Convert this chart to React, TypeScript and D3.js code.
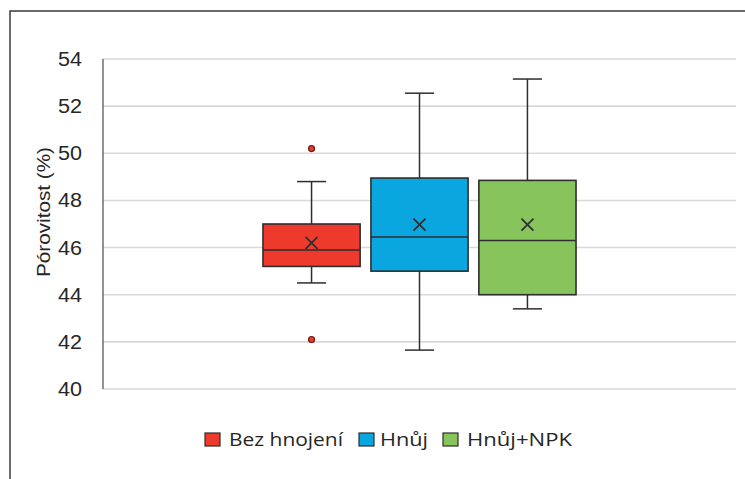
import React from "react";
import * as d3 from "d3";

const seriesNames = ["Bez hnojení", "Hnůj", "Hnůj+NPK"];
const seriesColors = ["#ee3a2c", "#0aa6e0", "#88c45c"];
const whiskerLow = [44.5, 41.65, 43.4];
const q1 = [45.2, 45.0, 44.0];
const medians = [45.9, 46.45, 46.3];
const q3 = [47.0, 48.95, 48.85];
const whiskerHigh = [48.8, 52.55, 53.15];
const means = [46.2, 46.97, 46.97];
const outliers = [[50.2, 42.1], [], []];
const yTicks = [40, 42, 44, 46, 48, 50, 52, 54];
const yTitle = "Pórovitost (%)";

const W = 745;
const H = 479;
const plotL = 103;
const plotR = 736;
const plotT = 59;
const plotB = 389;

export default function App() {
  const y = d3.scaleLinear().domain([40, 54]).range([plotB, plotT]);
  const cat = d3.scaleBand().domain(["all"]).range([plotL, plotR]).paddingInner(0).paddingOuter(0.511);
  const sx = d3
    .scaleBand()
    .domain(seriesNames)
    .range([cat("all")!, cat("all")! + cat.bandwidth()])
    .paddingInner(0.1)
    .paddingOuter(0);
  const bw = sx.bandwidth();
  const stroke = "#2e2e2e";

  const legendX = [205, 359, 443];
  const legendTextX = [229, 380, 467];
  const legendLen = [114, 48, 105];

  return (
    <svg
      width={W}
      height={H}
      style={{ position: "absolute", left: 0, top: 0, background: "#fff" }}
    >
      <rect x={10} y={11} width={900} height={700} fill="#fff" stroke="#3a3a3a" strokeWidth={1.5} />
      {yTicks.map((t) => (
        <line key={t} x1={plotL} x2={plotR} y1={y(t)} y2={y(t)} stroke="#d9d9d9" strokeWidth={1.6} />
      ))}
      <line x1={plotL} x2={plotL} y1={plotT} y2={plotB} stroke="#595959" strokeWidth={1.3} />
      {yTicks.map((t) => (
        <text
          key={"l" + t}
          x={82}
          y={y(t)}
          dy="0.36em"
          textAnchor="end"
          fontFamily="'Liberation Sans', Arial, sans-serif"
          fontSize={19.5}
          textLength={24}
          lengthAdjust="spacingAndGlyphs"
          fill="#262626"
        >
          {t}
        </text>
      ))}
      <text
        transform={`translate(50,212) rotate(-90)`}
        textAnchor="middle"
        fontFamily="'Liberation Sans', Arial, sans-serif"
        fontSize={19}
        textLength={130}
        lengthAdjust="spacingAndGlyphs"
        fill="#262626"
      >
        {yTitle}
      </text>
      {seriesNames.map((s, i) => {
        const x0 = sx(s)!;
        const cx = x0 + bw / 2;
        const cap = bw * 0.3;
        return (
          <g key={s}>
            <line x1={cx} x2={cx} y1={y(whiskerHigh[i])} y2={y(q3[i])} stroke={stroke} strokeWidth={1.5} />
            <line x1={cx} x2={cx} y1={y(q1[i])} y2={y(whiskerLow[i])} stroke={stroke} strokeWidth={1.5} />
            <line x1={cx - cap / 2} x2={cx + cap / 2} y1={y(whiskerHigh[i])} y2={y(whiskerHigh[i])} stroke={stroke} strokeWidth={1.5} />
            <line x1={cx - cap / 2} x2={cx + cap / 2} y1={y(whiskerLow[i])} y2={y(whiskerLow[i])} stroke={stroke} strokeWidth={1.5} />
            <rect
              x={x0}
              y={y(q3[i])}
              width={bw}
              height={y(q1[i]) - y(q3[i])}
              fill={seriesColors[i]}
              stroke={stroke}
              strokeWidth={1.6}
            />
            <line x1={x0} x2={x0 + bw} y1={y(medians[i])} y2={y(medians[i])} stroke={stroke} strokeWidth={1.6} />
            <path
              d={`M${cx - 6},${y(means[i]) - 6}L${cx + 6},${y(means[i]) + 6}M${cx - 6},${y(means[i]) + 6}L${cx + 6},${y(means[i]) - 6}`}
              stroke={stroke}
              strokeWidth={1.7}
              fill="none"
            />
            {outliers[i].map((o, j) => (
              <circle key={j} cx={cx} cy={y(o)} r={3} fill={seriesColors[i]} stroke="#6b1a14" strokeWidth={1.2} />
            ))}
          </g>
        );
      })}
      {seriesNames.map((s, i) => (
        <g key={"lg" + s}>
          <rect x={legendX[i]} y={433} width={15} height={13} fill={seriesColors[i]} stroke={stroke} strokeWidth={1.2} />
          <text
            x={legendTextX[i]}
            y={446}
            fontFamily="'Open Sans', 'Noto Sans', sans-serif"
            fontSize={17.5}
            textLength={legendLen[i]}
            lengthAdjust="spacingAndGlyphs"
            fill="#262626"
          >
            {s}
          </text>
        </g>
      ))}
    </svg>
  );
}
